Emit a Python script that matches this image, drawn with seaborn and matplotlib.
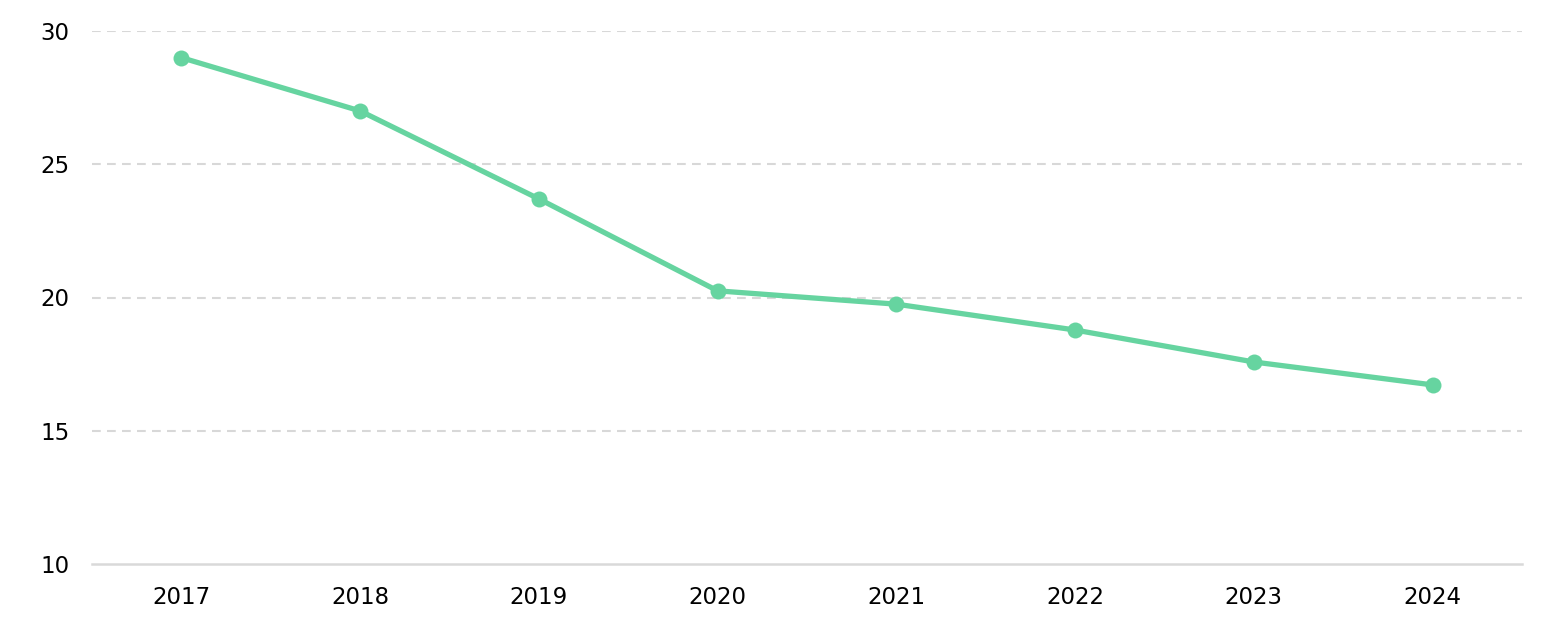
import pandas as pd
import matplotlib
matplotlib.use("Agg")
import matplotlib.pyplot as plt
import seaborn as sns

years = [2017, 2018, 2019, 2020, 2021, 2022, 2023, 2024]
values = [29.0, 27.0, 23.7, 20.25, 19.75, 18.78, 17.58, 16.72]
y_ticks = [10, 15, 20, 25, 30]

df = pd.DataFrame({'year': years, 'value': values})

sns.set_theme(style='white')
plt.rcParams['font.family'] = ['DejaVu Sans']

fig = plt.figure(figsize=(15.68, 6.36), dpi=100)
ax = fig.add_axes([92/1568, 1-564/636, (1522-92)/1568, (564-31)/636])

sns.lineplot(data=df, x='year', y='value', ax=ax, color='#66d4a0',
             linewidth=3.8, marker='o', markersize=11.5, markeredgewidth=0,
             zorder=3)

ax.set_xlim(2016.5, 2024.5)
ax.set_ylim(10, 30)
ax.set_xticks(years)
ax.set_yticks(y_ticks)
ax.set_xlabel('')
ax.set_ylabel('')

for t in y_ticks[1:]:
    ax.axhline(t, color='#d8d8d8', linewidth=1.5, linestyle=(0, (4.2, 3.0)), zorder=1)

for s in ['top', 'right', 'left']:
    ax.spines[s].set_visible(False)
ax.spines['bottom'].set_color('#d9d9d9')
ax.spines['bottom'].set_linewidth(1.8)

ax.tick_params(axis='both', length=0, labelsize=16.5, colors='#000000')
ax.tick_params(axis='y', pad=16)
ax.tick_params(axis='x', pad=16)

fig.savefig('out.png', dpi=100)
